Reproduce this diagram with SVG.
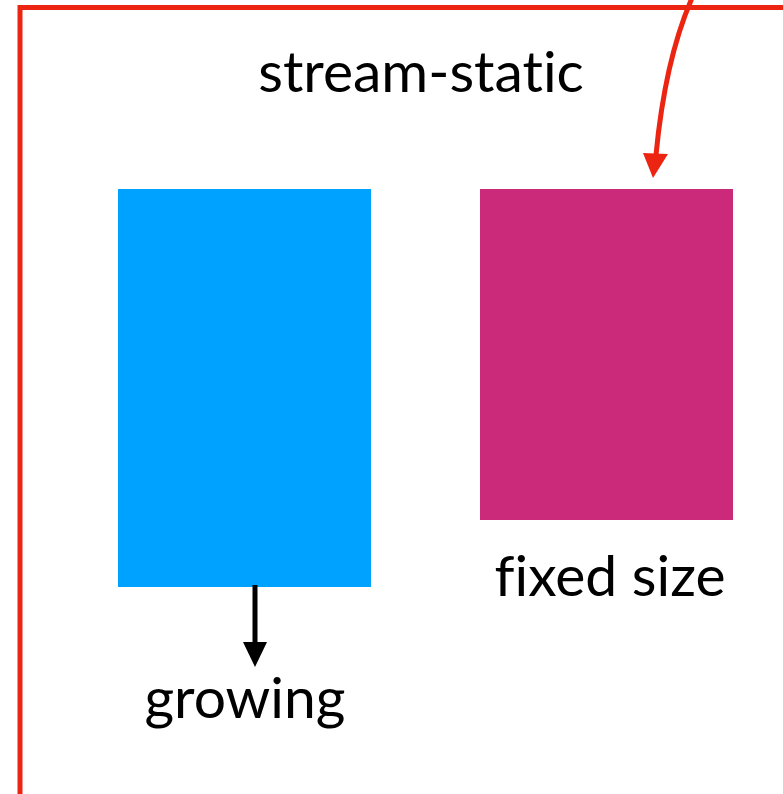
<svg xmlns="http://www.w3.org/2000/svg" width="783" height="794" viewBox="0 0 783 794">
<style>
.lbl{font-family:"Lato","Open Sans","Liberation Sans",sans-serif;font-size:57px;fill:#000;text-anchor:middle;font-variant-ligatures:none;font-feature-settings:"liga" 0}
</style>
<rect width="783" height="794" fill="#fff"/>
<g id="frame">
<rect x="20" y="7.5" width="800" height="820" fill="none" stroke="#EC2412" stroke-width="5"/>
</g>
<g id="title"><text class="lbl" x="421" y="92">stream-static</text></g>
<g id="stream">
<rect x="118" y="189" width="253" height="398" fill="#00A2FF"/>
<text class="lbl" x="245" y="718">growing</text>
</g>
<g id="static">
<rect x="480" y="189" width="253" height="331" fill="#CB2A7A"/>
<text class="lbl" x="610" y="596">fixed size</text>
</g>
<g id="connectors">
<path d="M692,-2 Q665,60 656,155" fill="none" stroke="#EC2412" stroke-width="5"/>
<path d="M643,153 L668,154 L653,178 Z" fill="#EC2412"/>
<line x1="255" y1="585" x2="255" y2="645" stroke="#000" stroke-width="5"/>
<path d="M243,642 L267,642 L255,667 Z" fill="#000"/>
</g>
</svg>
